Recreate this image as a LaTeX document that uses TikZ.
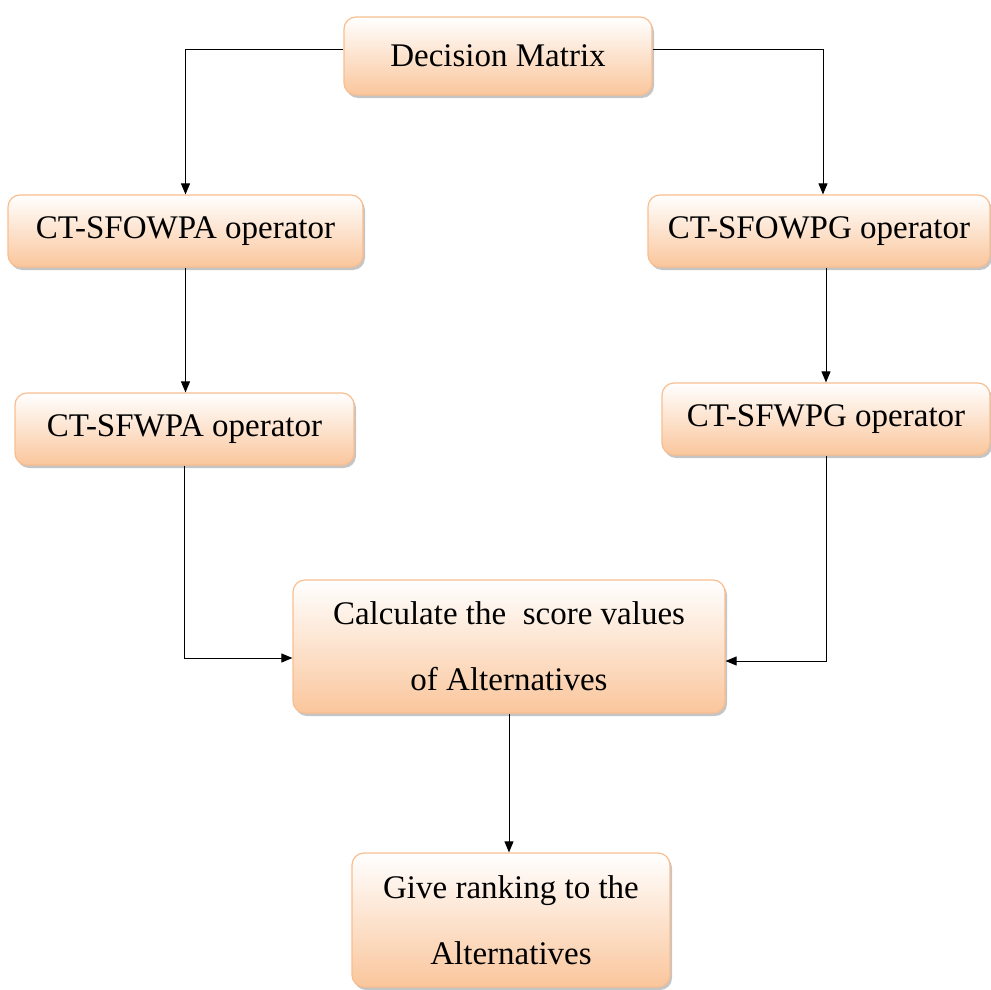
\documentclass[tikz,border=0pt]{standalone}
\usepackage{fontspec}
\setmainfont{Liberation Serif}
\usetikzlibrary{arrows.meta,shadows,calc}
\definecolor{boxedge}{HTML}{F8BE90}
\definecolor{boxbot}{HTML}{FAC69C}
\tikzset{
  flowbox/.style={draw=boxedge, line width=1.2pt, rounded corners=12pt,
    top color=white, bottom color=boxbot, inner sep=0pt, align=center,
    font=\fontsize{33}{66}\selectfont,
    drop shadow={shadow xshift=2pt, shadow yshift=-3pt, fill=black!45, opacity=0.5}},
  conn/.style={line width=1pt, black},
  arr/.style={conn, -{Triangle[length=11pt,width=9pt]}}
}
\begin{document}
\begin{tikzpicture}[x=1pt,y=-1pt]
\useasboundingbox (0,0) rectangle (991,990);
\node[flowbox, minimum width=308pt, minimum height=78pt] (dm) at (498,56) {Decision Matrix};
\node[flowbox, minimum width=355pt, minimum height=72pt] (oa) at (185.5,231) {CT-SFOWPA operator};
\node[flowbox, minimum width=342pt, minimum height=72pt] (og) at (819,231) {CT-SFOWPG operator};
\node[flowbox, minimum width=339pt, minimum height=72pt] (wa) at (184.5,429) {CT-SFWPA operator};
\node[flowbox, minimum width=328pt, minimum height=72pt] (wg) at (826,419) {CT-SFWPG operator};
\node[flowbox, minimum width=432pt, minimum height=133pt] (calc) at (509,646.5) {Calculate the \ score values\\of Alternatives};
\node[flowbox, minimum width=318pt, minimum height=134pt] (rank) at (511,920) {Give ranking to the\\Alternatives};
\draw[arr] ([yshift=6pt]dm.west) -| (oa.north);
\draw[arr] ([yshift=6pt]dm.east) -| ([xshift=4pt]og.north);
\draw[arr] (oa.south) -- (oa.south |- wa.north);
\draw[arr] (wg.north |- og.south) -- (wg.north);
\draw[arr] (wa.south) |- ([yshift=-11.5pt]calc.west);
\draw[arr] (wg.south) |- ([yshift=-14.5pt]calc.east);
\draw[arr] (calc.south) -- (calc.south |- rank.north);
\end{tikzpicture}
\end{document}
